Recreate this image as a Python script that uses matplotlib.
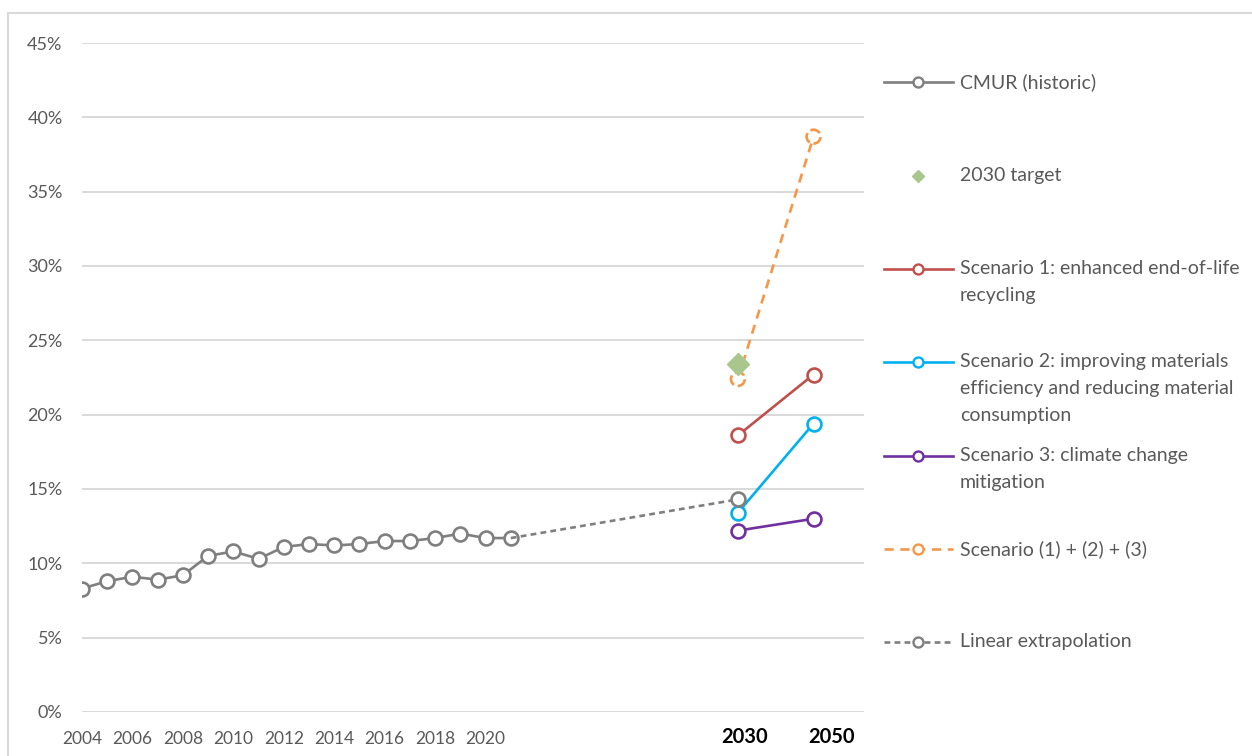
import matplotlib
matplotlib.use("Agg")
import matplotlib.pyplot as plt
from matplotlib.lines import Line2D
from matplotlib import transforms
from matplotlib.ticker import FuncFormatter, MultipleLocator

# ---- data -------------------------------------------------------------
hist_years = list(range(2004, 2022))
cmur_hist = [8.3, 8.8, 9.1, 8.9, 9.2, 10.5, 10.8, 10.3, 11.1, 11.3,
             11.2, 11.3, 11.5, 11.5, 11.7, 12.0, 11.7, 11.7]

proj_years = [2030, 2050]
target_2030 = 23.4
scenario_1 = [18.6, 22.7]
scenario_2 = [13.4, 19.4]
scenario_3 = [12.2, 13.0]
scenario_all = [22.4, 38.7]

linear_years = [2021, 2030]
linear_extrap = [11.7, 14.3]

# category axis: historic years, empty slots, then the projection years
categories = (hist_years + [None] * 8 + [2030, None, None, 2050, None, None])
tick_years = list(range(2004, 2021, 2))
bold_years = [2030, 2050]

legend_labels = [
    "CMUR (historic)",
    "2030 target",
    "Scenario 1: enhanced end-of-life\nrecycling",
    "Scenario 2: improving materials\nefficiency and reducing material\nconsumption",
    "Scenario 3: climate change\nmitigation",
    "Scenario (1) + (2) + (3)",
    "Linear extrapolation",
]


def pos(year):
    return categories.index(year)


def pct(values):
    return [v / 100 for v in values]


# ---- style ------------------------------------------------------------
FONT = "Lato"
TXT = "#595959"
GREY = "#7f7f7f"
RED = "#c0504d"
BLUE = "#00b0f0"
PURPLE = "#7030a0"
ORANGE = "#f79646"
GREEN = "#a9c78c"
GRID = "#d9d9d9"

plt.rcParams["font.family"] = [FONT, "DejaVu Sans"]

W, H = 1252, 756
fig = plt.figure(figsize=(W / 100, H / 100), dpi=100)
ax = fig.add_axes([82 / W, 1 - 712 / H, (864 - 82) / W, (712 - 43) / H])

ax.set_xlim(0, len(categories) - 1)
ax.set_ylim(0, 0.45)
ax.yaxis.set_major_locator(MultipleLocator(0.05))
ax.yaxis.set_major_formatter(FuncFormatter(lambda v, _: f"{v * 100:.0f}%"))
ax.grid(axis="y", color=GRID, linewidth=1.4)
ax.set_axisbelow(True)
for s in ax.spines.values():
    s.set_visible(False)
ax.tick_params(axis="y", length=0, pad=14, labelsize=13, labelcolor=TXT)
ax.set_xticks([pos(y) for y in tick_years])
ax.set_xticklabels([str(y) for y in tick_years])
ax.tick_params(axis="x", length=0, pad=14, labelsize=12.5, labelcolor=TXT)

MS = 10
MEW = 1.9
LW = 1.9

# historic series
ax.plot([pos(y) for y in hist_years], pct(cmur_hist), color=GREY, lw=LW,
        marker="o", ms=MS, mfc="white", mec=GREY, mew=MEW, zorder=3)

# scenarios
px = [pos(y) for y in proj_years]
for vals, col in [(scenario_1, RED), (scenario_2, BLUE), (scenario_3, PURPLE)]:
    ax.plot(px, pct(vals), color=col, lw=LW, marker="o", ms=MS,
            mfc="white", mec=col, mew=MEW, zorder=3)

# linear extrapolation, marker only at the 2030 end
lx = [pos(y) for y in linear_years]
ax.plot(lx, pct(linear_extrap), color=GREY, lw=LW, ls=(0, (2.2, 1.6)), zorder=3)
ax.plot(lx[-1:], pct(linear_extrap)[-1:], ls="none", marker="o", ms=MS,
        mfc="white", mec=GREY, mew=MEW, zorder=4)

# combined scenario: dashed line and dashed marker outlines
ax.plot(px, pct(scenario_all), color=ORANGE, lw=LW, ls=(0, (3.5, 2.5)), zorder=3)
ax.scatter(px, pct(scenario_all), s=MS ** 2, marker="o", facecolors="white",
           edgecolors=ORANGE, linewidths=MEW, linestyles=[(0, (4, 1.5))],
           zorder=4)

# 2030 target
ax.plot([pos(2030)], [target_2030 / 100], ls="none", marker="D", ms=11,
        mfc=GREEN, mec=GREEN, zorder=5)

# bold projection-year labels under the axis
for yr, dx in zip(bold_years, [7, 18]):
    tr = transforms.offset_copy(ax.get_xaxis_transform(), fig=fig, x=dx, y=-25,
                                units="dots")
    ax.text(pos(yr), 0, str(yr), transform=tr, ha="center", va="center",
            fontsize=14.5, fontweight="bold", color="black")

# ---- legend drawn at the right -----------------------------------------
def fx(px_):
    return px_ / W


def fy(py_):
    return 1 - py_ / H


rows_y = [82, 176, 269, 362, 456, 549, 642]
styles = [
    dict(color=GREY, ls="-", marker="o"),
    dict(color=GREEN, ls="none", marker="D"),
    dict(color=RED, ls="-", marker="o"),
    dict(color=BLUE, ls="-", marker="o"),
    dict(color=PURPLE, ls="-", marker="o"),
    dict(color=ORANGE, ls=(0, (3.5, 2.5)), marker="o"),
    dict(color=GREY, ls=(0, (2.2, 1.6)), marker="o"),
]
for y0, label, st in zip(rows_y, legend_labels, styles):
    if st["ls"] != "none":
        fig.add_artist(Line2D([fx(884), fx(953)], [fy(y0), fy(y0)],
                              color=st["color"], lw=LW, ls=st["ls"]))
    if st["marker"] == "D":
        fig.add_artist(Line2D([fx(918)], [fy(y0)], ls="none", marker="D",
                              ms=6.5, mfc=st["color"], mec=st["color"]))
    else:
        fig.add_artist(Line2D([fx(918)], [fy(y0)], ls="none", marker="o",
                              ms=7.2, mfc="white", mec=st["color"], mew=1.7))
    for k, line in enumerate(label.split("\n")):
        fig.text(fx(960), fy(y0 + k * 26.5), line, ha="left", va="center",
                 fontsize=14, color=TXT)

# chart area frame
fig.add_artist(Line2D([fx(8), fx(W)], [fy(13), fy(13)], color=GRID, lw=1.5))
fig.add_artist(Line2D([fx(8), fx(8)], [fy(13), fy(H)], color=GRID, lw=1.5))

fig.savefig("out.png", dpi=100, facecolor="white")
